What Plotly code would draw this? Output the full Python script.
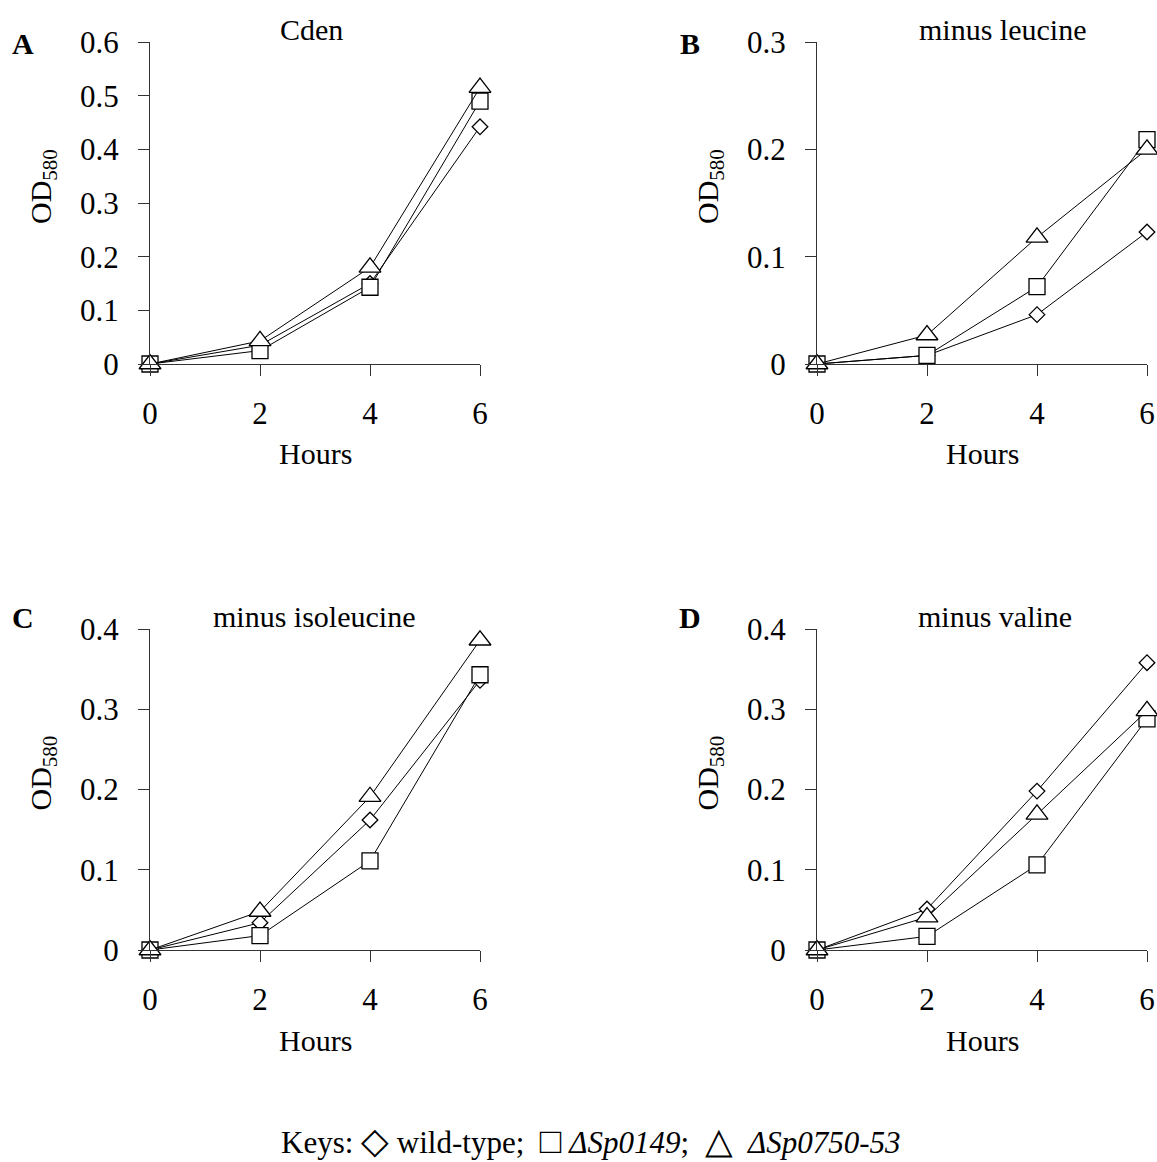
import plotly.graph_objects as go

# ---------------- data ----------------
hours = [0, 2, 4, 6]
x_ticks = [0, 2, 4, 6]

# Panel A: Cden
a_wild = [0, 0.035, 0.150, 0.442]
a_sp0149 = [0, 0.025, 0.143, 0.490]
a_sp0750 = [0, 0.043, 0.180, 0.515]

# Panel B: minus leucine
b_wild = [0, 0.008, 0.046, 0.123]
b_sp0149 = [0, 0.008, 0.072, 0.209]
b_sp0750 = [0, 0.027, 0.118, 0.200]

# Panel C: minus isoleucine
c_wild = [0, 0.034, 0.162, 0.336]
c_sp0149 = [0, 0.018, 0.111, 0.343]
c_sp0750 = [0, 0.048, 0.191, 0.386]

# Panel D: minus valine
d_wild = [0, 0.051, 0.198, 0.358]
d_sp0149 = [0, 0.017, 0.106, 0.288]
d_sp0750 = [0, 0.041, 0.169, 0.298]

panel_titles = ["Cden", "minus leucine", "minus isoleucine", "minus valine"]
panel_letters = ["A", "B", "C", "D"]
y_max = [0.6, 0.3, 0.4, 0.4]
y_tick_vals = [
    [0, 0.1, 0.2, 0.3, 0.4, 0.5, 0.6],
    [0, 0.1, 0.2, 0.3],
    [0, 0.1, 0.2, 0.3, 0.4],
    [0, 0.1, 0.2, 0.3, 0.4],
]
y_tick_text = [
    ["0", "0.1", "0.2", "0.3", "0.4", "0.5", "0.6"],
    ["0", "0.1", "0.2", "0.3"],
    ["0", "0.1", "0.2", "0.3", "0.4"],
    ["0", "0.1", "0.2", "0.3", "0.4"],
]
series = [
    (a_wild, a_sp0149, a_sp0750),
    (b_wild, b_sp0149, b_sp0750),
    (c_wild, c_sp0149, c_sp0750),
    (d_wild, d_sp0149, d_sp0750),
]

# ---------------- layout geometry ----------------
W, H = 1157, 1162
FONT = "Liberation Serif, Times New Roman, serif"

def px(x):
    return x / W

def py(y):
    return 1 - y / H

# pixel boxes of each plot area: (left, right, top, bottom)
boxes = [
    (150, 480, 42, 364),
    (817, 1147, 42, 364),
    (150, 480, 629, 950),
    (817, 1147, 629, 950),
]

symbols = [
    dict(symbol="diamond", size=12),
    dict(symbol="square", size=16),
    dict(symbol="triangle-up", size=19),
]

fig = go.Figure()
layout = dict(
    width=W, height=H, autosize=False,
    margin=dict(l=0, r=0, t=0, b=0, pad=0, autoexpand=False),
    paper_bgcolor="white", plot_bgcolor="white",
    showlegend=False,
    font=dict(family=FONT, size=31, color="black"),
)

annotations = []
for i in range(4):
    l, r, t, b = boxes[i]
    xa = "x" if i == 0 else f"x{i+1}"
    ya = "y" if i == 0 else f"y{i+1}"
    xkey = "xaxis" if i == 0 else f"xaxis{i+1}"
    ykey = "yaxis" if i == 0 else f"yaxis{i+1}"
    layout[xkey] = dict(
        domain=[px(l), px(r)], anchor=ya, range=[0, 6],
        tickvals=x_ticks, ticktext=[str(v) for v in x_ticks],
        showgrid=False, zeroline=False, showline=True, automargin=False,
        linecolor="#333", linewidth=1,
        ticks="outside", ticklen=11, tickwidth=1, tickcolor="#333",
        ticklabelstandoff=11,
        tickfont=dict(family=FONT, size=31, color="black"),
    )
    layout[ykey] = dict(
        domain=[py(b), py(t)], anchor=xa, range=[0, y_max[i]],
        tickvals=y_tick_vals[i], ticktext=y_tick_text[i],
        showgrid=False, zeroline=False, showline=True, automargin=False,
        linecolor="#333", linewidth=1,
        ticks="outside", ticklen=11, tickwidth=1, tickcolor="#333",
        ticklabelstandoff=13,
        tickfont=dict(family=FONT, size=31, color="black"),
    )
    for s_idx, ys in enumerate(series[i]):
        fig.add_trace(go.Scatter(
            x=hours, y=ys, xaxis=xa, yaxis=ya, mode="lines+markers",
            line=dict(color="black", width=1),
            marker=dict(color="white", line=dict(color="black", width=1.3),
                        **symbols[s_idx]),
            cliponaxis=False, hoverinfo="skip",
        ))

    cx = (l + r) / 2
    cy = (t + b) / 2
    # x-axis title
    annotations.append(dict(
        text="Hours", x=px(cx), y=py(b + 90), xref="paper", yref="paper",
        xanchor="center", yanchor="middle", showarrow=False,
        font=dict(family=FONT, size=30, color="black")))
    # y-axis title
    annotations.append(dict(
        text="OD<sub>580</sub>", x=px(l - 107), y=py(cy - 16),
        xref="paper", yref="paper", textangle=-90,
        xanchor="center", yanchor="middle", showarrow=False,
        font=dict(family=FONT, size=30, color="black")))

title_pos = [(311, 29), (1002, 29), (314, 616), (995, 616)]
letter_pos = [(23, 43), (690, 43), (23, 617), (690, 617)]
for i in range(4):
    tx, ty = title_pos[i]
    annotations.append(dict(
        text=panel_titles[i], x=px(tx), y=py(ty), xref="paper", yref="paper",
        xanchor="center", yanchor="middle", showarrow=False,
        font=dict(family=FONT, size=30, color="black")))
    lx, ly = letter_pos[i]
    annotations.append(dict(
        text=f"<b>{panel_letters[i]}</b>", x=px(lx), y=py(ly),
        xref="paper", yref="paper", xanchor="center", yanchor="middle",
        showarrow=False, font=dict(family=FONT, size=30, color="black")))

sym = '<span style="font-size:36px">{}</span>'
nb = "\u00A0"
key_text = ("Keys:" + nb + sym.format("\u25C7") + nb + "wild-type;" + nb + nb
            + sym.format("\u25A1") + nb + "<i>\u0394Sp0149</i>;" + nb + nb
            + sym.format("\u25B3") + nb + nb + "<i>\u0394Sp0750-53</i>")
annotations.append(dict(
    text=key_text, x=px(591), y=py(1141), xref="paper", yref="paper",
    xanchor="center", yanchor="middle", showarrow=False,
    font=dict(family=FONT, size=31, color="black")))

layout["annotations"] = annotations
fig.update_layout(**layout)
fig.write_html(
    "out.html",
    config={"displayModeBar": False},
    post_script="document.body.style.margin='0px';"
                "document.body.style.overflow='hidden';",
)
